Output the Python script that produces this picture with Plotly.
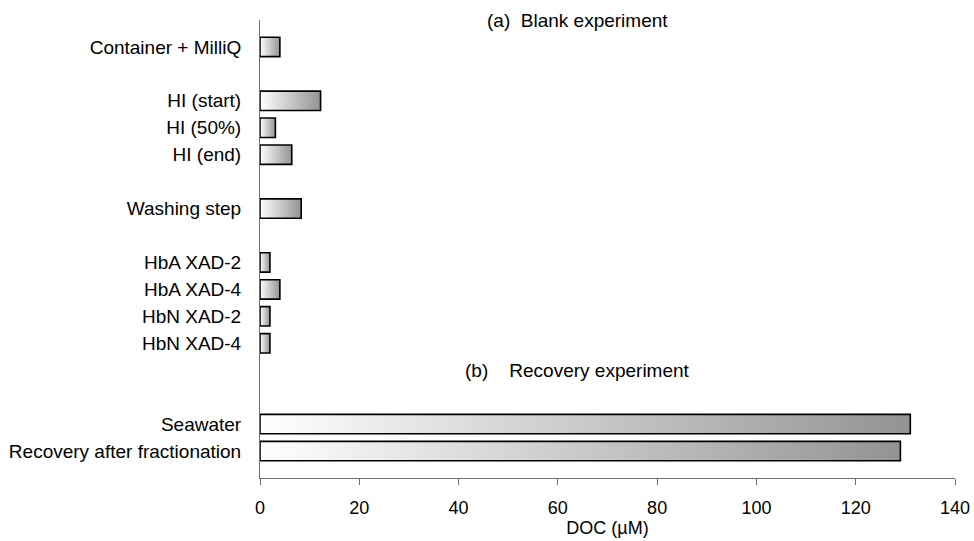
import plotly.graph_objects as go

# DOC values (µM)
categories = ["Container + MilliQ", "HI (start)", "HI (50%)", "HI (end)", "Washing step",
              "HbA XAD-2", "HbA XAD-4", "HbN XAD-2", "HbN XAD-4",
              "Seawater", "Recovery after fractionation"]
values = [4.0, 12.2, 3.1, 6.4, 8.3, 2.0, 4.0, 2.0, 2.0, 131.0, 129.0]
subgroup = ["cont", "HI", "HI", "HI", "wash", "Hb", "Hb", "Hb", "Hb", "rec", "rec"]
section = ["a", "a", "a", "a", "a", "a", "a", "a", "a", "b", "b"]
section_titles = {"a": "(a)\u00a0\u00a0Blank experiment",
                  "b": "(b)\u00a0\u00a0\u00a0\u00a0Recovery experiment"}
x_ticks = [0, 20, 40, 60, 80, 100, 120, 140]

# row positions: one empty row between sub-groups, one more before a new section
pos = []
p = 0
section_row = {}
for i in range(len(categories)):
    if i == 0:
        p = 1
        section_row[section[i]] = 0
    elif subgroup[i] != subgroup[i - 1]:
        p += 2
        if section[i] != section[i - 1]:
            p += 1
            section_row[section[i]] = p - 2
    else:
        p += 1
    pos.append(p)

half = 0.36
fig = go.Figure()
for name, v, y in zip(categories, values, pos):
    fig.add_trace(go.Scatter(
        x=[0, v, v, 0, 0], y=[y - half, y - half, y + half, y + half, y - half],
        mode="lines", fill="toself",
        fillgradient=dict(type="horizontal", colorscale=[[0, "#ffffff"], [1, "#939393"]]),
        line=dict(color="black", width=1.6), name=name, showlegend=False,
        hoverinfo="text", text=f"{name}: {v}"))

for s, r in section_row.items():
    fig.add_annotation(x=64, y=r, text=section_titles[s], showarrow=False,
                       font=dict(size=19, color="black"), xanchor="center", yanchor="middle")

axcol = "#6e6e6e"
fig.update_layout(
    width=974, height=541,
    margin=dict(l=260, r=19, t=20, b=63),
    paper_bgcolor="white", plot_bgcolor="white",
    font=dict(family="Liberation Sans, Arial", size=18, color="black"),
    xaxis=dict(range=[0, 140], tickvals=x_ticks, showgrid=False, zeroline=False,
               showline=True, linecolor=axcol, linewidth=1, ticks="outside",
               tickcolor=axcol, ticklen=6, tickfont=dict(size=18), automargin=False,
               ticklabelstandoff=7,
               title=dict(text="DOC (µM)", font=dict(size=18), standoff=3)),
    yaxis=dict(range=[pos[-1] + 1, 0], tickvals=pos, ticktext=categories,
               showgrid=False, zeroline=False, showline=True, linecolor=axcol,
               linewidth=1, ticks="", ticklabelstandoff=14, tickfont=dict(size=19),
               automargin=False),
)

# drop the default page margin so the figure fills the window exactly
fig.write_html("out.html", config={"displayModeBar": False},
               post_script="document.body.style.margin='0';document.body.style.overflow='hidden';")
